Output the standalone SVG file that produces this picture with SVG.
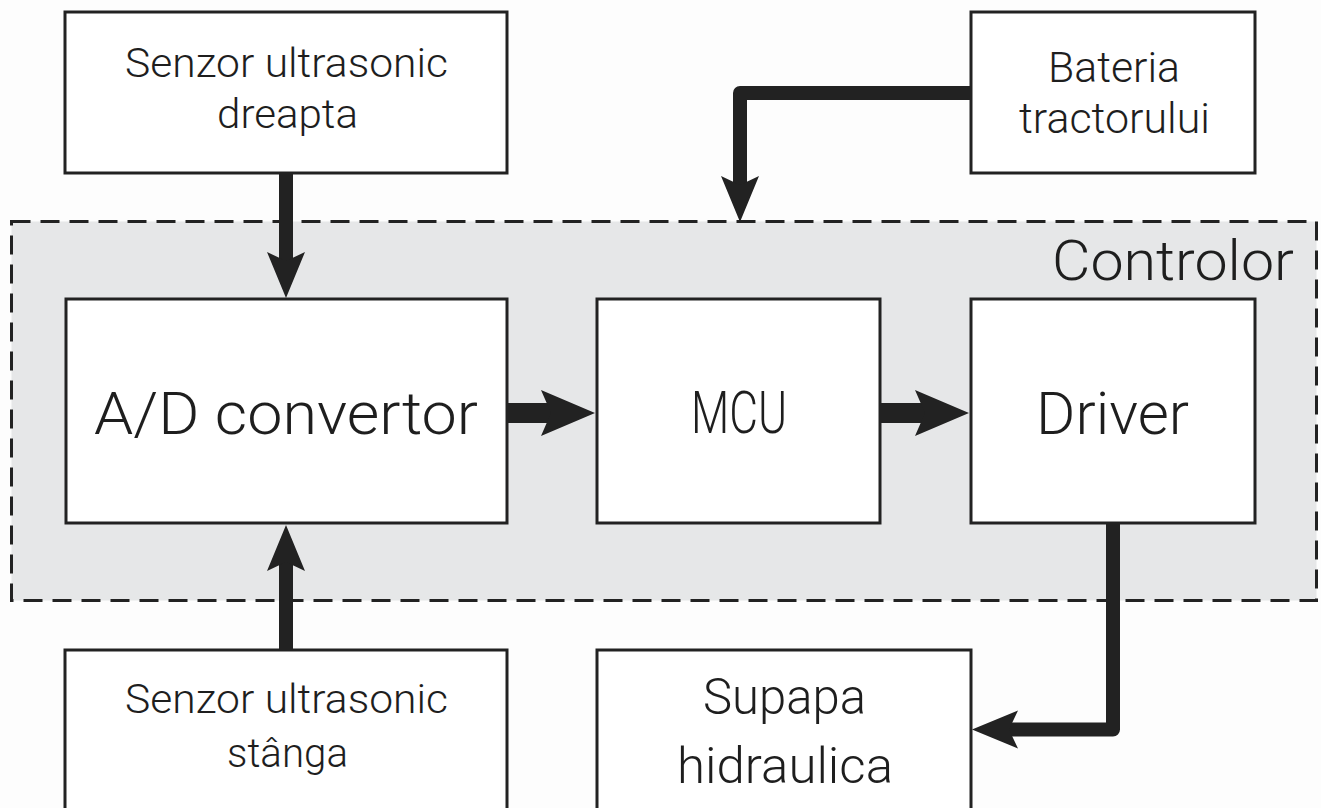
<svg xmlns="http://www.w3.org/2000/svg" width="1321" height="808" viewBox="0 0 1321 808">
<style>
.box{fill:#ffffff;stroke:#222222;stroke-width:3}
.t{font-family:Roboto,"DejaVu Sans",sans-serif;font-weight:300;fill:#1e1e1e;text-anchor:middle}
.wire{fill:none;stroke:#222222;stroke-linejoin:round}
</style>
<defs>
<marker id="hs" markerUnits="userSpaceOnUse" markerWidth="60" markerHeight="50" viewBox="-12 -25 60 50" refX="0" refY="0" orient="auto" overflow="visible">
<path d="M-9,-19 L37,0 L-9,19 L0,0 Z" fill="#222222"/>
</marker>
<marker id="hl" markerUnits="userSpaceOnUse" markerWidth="70" markerHeight="60" viewBox="-14 -30 70 60" refX="0" refY="0" orient="auto" overflow="visible">
<path d="M-10,-23 L44,0 L-10,23 L0,0 Z" fill="#222222"/>
</marker>
</defs>
<rect x="0" y="0" width="1321" height="808" fill="#fdfdfd"/>
<g id="controlor">
<rect x="11.5" y="221.5" width="1305" height="379" fill="#e6e7e8" stroke="#222222" stroke-width="3" stroke-dasharray="19 10"/>
<text class="t" x="1173" y="280" font-size="56" textLength="242" lengthAdjust="spacingAndGlyphs">Controlor</text>
</g>
<g id="senzor-dreapta">
<rect class="box" x="65" y="12" width="442" height="161"/>
<text class="t" x="286.5" y="77" font-size="41" textLength="323" lengthAdjust="spacingAndGlyphs">Senzor ultrasonic</text>
<text class="t" x="287.5" y="128" font-size="41" textLength="141" lengthAdjust="spacingAndGlyphs">dreapta</text>
</g>
<g id="bateria">
<rect class="box" x="971" y="12" width="284" height="161"/>
<text class="t" x="1114" y="82" font-size="42" textLength="132" lengthAdjust="spacingAndGlyphs">Bateria</text>
<text class="t" x="1114.5" y="133" font-size="42" textLength="191" lengthAdjust="spacingAndGlyphs">tractorului</text>
</g>
<g id="ad-convertor">
<rect class="box" x="66" y="299" width="441" height="224"/>
<text class="t" x="286" y="434" font-size="59" textLength="384" lengthAdjust="spacingAndGlyphs">A/D convertor</text>
</g>
<g id="mcu">
<rect class="box" x="597" y="299" width="283" height="224"/>
<text class="t" x="739" y="433" font-size="59" textLength="96" lengthAdjust="spacingAndGlyphs">MCU</text>
</g>
<g id="driver">
<rect class="box" x="971" y="299" width="284" height="224"/>
<text class="t" x="1112.5" y="434" font-size="59" textLength="153" lengthAdjust="spacingAndGlyphs">Driver</text>
</g>
<g id="senzor-stanga">
<rect class="box" x="65" y="650" width="442" height="170"/>
<text class="t" x="286.5" y="713" font-size="41" textLength="323" lengthAdjust="spacingAndGlyphs">Senzor ultrasonic</text>
<text class="t" x="287.5" y="767" font-size="41" textLength="121" lengthAdjust="spacingAndGlyphs">stânga</text>
</g>
<g id="supapa">
<rect class="box" x="597" y="650" width="374" height="170"/>
<text class="t" x="784.5" y="714" font-size="50" textLength="163" lengthAdjust="spacingAndGlyphs">Supapa</text>
<text class="t" x="785" y="783" font-size="50" textLength="216" lengthAdjust="spacingAndGlyphs">hidraulica</text>
</g>
<g id="connectors">
<path class="wire" stroke-width="14" d="M286 173 V261" marker-end="url(#hs)"/>
<path class="wire" stroke-width="14" d="M286 650 V562" marker-end="url(#hs)"/>
<path class="wire" stroke-width="14" d="M971 93 H740 V185" marker-end="url(#hs)"/>
<path class="wire" stroke-width="14" d="M1113 523 V729.5 H1009" marker-end="url(#hs)"/>
<path class="wire" stroke-width="20" d="M507 413 H551" marker-end="url(#hl)"/>
<path class="wire" stroke-width="20" d="M880 413 H925" marker-end="url(#hl)"/>
</g>
</svg>
